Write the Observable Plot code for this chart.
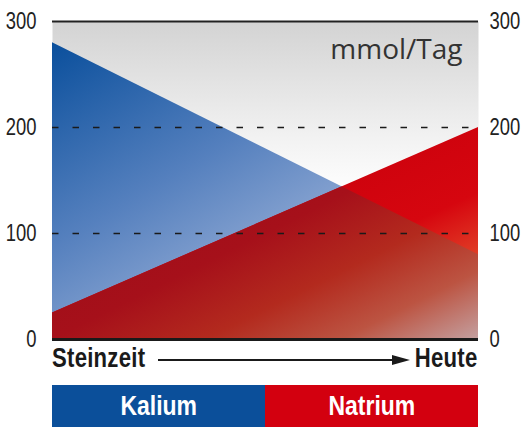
<!DOCTYPE html>
<html>
<head>
<meta charset="utf-8">
<script src="https://cdn.jsdelivr.net/npm/d3@7"></script>
<script src="https://cdn.jsdelivr.net/npm/@observablehq/plot@0.6"></script>
<style>
  html, body { margin: 0; padding: 0; background: #fff; }
  #wrap { position: relative; width: 527px; height: 427px; overflow: hidden; }
  #chart { position: absolute; left: 0; top: 0; }
  .row { position: absolute; left: 52px; width: 426px; top: 345px; height: 27px; line-height: 27px;
         font-family: "Liberation Sans", Arial, sans-serif; font-weight: bold;
         font-size: 27px; letter-spacing: 0.3px; color: #1a1a1a; }
  .row .l { position: absolute; left: 0; transform: scaleX(0.82); transform-origin: left center; }
  .row .r { position: absolute; right: 0; transform: scaleX(0.82); transform-origin: right center; }
  #arrow { position: absolute; left: 0; top: 0; }
  .legend { position: absolute; left: 52px; top: 385px; width: 426px; height: 42px; display: flex; }
  .legend div { flex: 1; text-align: center; line-height: 42px; }
  .legend span { display: inline-block; color: #fff; transform: scaleX(0.82); transform-origin: center center;
         font-family: "Liberation Sans", Arial, sans-serif; font-weight: bold; font-size: 28px; }
</style>
</head>
<body>
<div id="wrap">
  <div id="chart"></div>
  <svg id="arrow" width="527" height="427" style="pointer-events:none"></svg>
  <div class="row"><span class="l" id="xStart"></span><span class="r" id="xEnd"></span></div>
  <div class="legend" id="legend"></div>
</div>
<script>
// ---- data ----
const periods = [0, 1];                 // 0 = Steinzeit, 1 = Heute
const periodLabels = ["Steinzeit", "Heute"];
const kalium = [280, 80];               // mmol/Tag
const natrium = [25, 200];              // mmol/Tag
const seriesNames = ["Kalium", "Natrium"];
const seriesColors = ["#0b4f9a", "#d3000f"];
const yTicks = [0, 100, 200, 300];
const gridTicks = [100, 200];
const unitLabel = "mmol/Tag";

const kData = periods.map((p, i) => ({x: p, v: kalium[i]}));
const nData = periods.map((p, i) => ({x: p, v: natrium[i]}));

const plot = Plot.plot({
  width: 527,
  height: 345,
  marginLeft: 52,
  marginRight: 49,
  marginTop: 21,
  marginBottom: 6,
  style: {fontFamily: "'Liberation Sans', Arial, sans-serif", fontSize: "23px", color: "#222", background: "transparent", overflow: "visible"},
  x: {domain: [0, 1], axis: null},
  y: {domain: [0, 300], axis: null},
  marks: [
    Plot.frame({fill: "url(#bgGrad)", stroke: "none"}),
    Plot.areaY(kData, {x: "x", y: "v", fill: "url(#kGrad)"}),
    Plot.areaY(nData, {x: "x", y: "v", fill: "url(#nGrad)"}),
    Plot.areaY(nData, {x: "x", y: "v", fill: "url(#oGrad)"}),
    Plot.ruleY(gridTicks, {stroke: "#1a1a1a", strokeWidth: 1.6, strokeDasharray: "6.5,14"}),
    Plot.ruleY([300], {stroke: "#222", strokeWidth: 2.2}),
    Plot.ruleY([0], {stroke: "#1a1a1a", strokeWidth: 3}),
    Plot.axisY({anchor: "left", ticks: yTicks, tickSize: 0, tickPadding: 16, label: null, fontSize: 23, tickFormat: d => d}),
    Plot.axisY({anchor: "right", ticks: yTicks, tickSize: 0, tickPadding: 11, label: null, fontSize: 23, tickFormat: d => d}),
    Plot.text([unitLabel], {frameAnchor: "top-right", dx: -16, dy: 37, lineAnchor: "bottom", textAnchor: "end",
      fontFamily: "'Open Sans', sans-serif", fontSize: 28, fill: "#333"})
  ]
});
document.getElementById("chart").appendChild(plot);

// gradients and clip
const svg = d3.select(plot);
const defs = svg.insert("defs", ":first-child");
function grad(id, x1, y1, x2, y2, stops) {
  const g = defs.append("linearGradient").attr("id", id)
    .attr("x1", x1).attr("y1", y1).attr("x2", x2).attr("y2", y2);
  stops.forEach(([o, c]) => g.append("stop").attr("offset", o).attr("stop-color", c));
}
grad("bgGrad", 0, 0, 0, 1, [[0, "#d3d3d3"], [0.38, "#f3f3f3"], [0.55, "#ffffff"], [1, "#ffffff"]]);
grad("kGrad", 0, 0, 0.75, 0.9, [[0, "#0a4f9c"], [0.45, "#5580be"], [1, "#b9c6e3"]]);
grad("nGrad", 0.45, 0.15, 1, 0.75, [[0, "#c8000c"], [0.6, "#d6060f"], [1, "#e65a32"]]);
grad("oGrad", 0, 0, 1, 1, [[0, "#930b17"], [0.5, "#a6101a"], [0.68, "#b32a1e"], [0.84, "#bc5442"], [1, "#c4a0a0"]]);

const areas = svg.selectAll("g[aria-label='area']").nodes();
if (areas.length >= 3) {
  const kPath = d3.select(areas[0]).select("path").attr("d");
  defs.append("clipPath").attr("id", "kClip").append("path").attr("d", kPath);
  d3.select(areas[2]).attr("clip-path", "url(#kClip)");
}

// condense tick labels (narrow-font look)
svg.selectAll("g[aria-label='y-axis tick label'] text").each(function() {
  const w = this.getComputedTextLength();
  this.setAttribute("textLength", (w * 0.8).toFixed(2));
  this.setAttribute("lengthAdjust", "spacingAndGlyphs");
});

// bottom row
document.getElementById("xStart").textContent = periodLabels[0];
document.getElementById("xEnd").textContent = periodLabels[1];
const a = d3.select("#arrow");
a.append("line").attr("x1", 158).attr("x2", 396).attr("y1", 360).attr("y2", 360)
  .attr("stroke", "#1a1a1a").attr("stroke-width", 2.2);
a.append("path").attr("d", "M392,355 L410,360 L392,365 Z").attr("fill", "#1a1a1a");

// legend
const leg = d3.select("#legend");
seriesNames.forEach((n, i) => leg.append("div").style("background", seriesColors[i]).append("span").text(n));
</script>
</body>
</html>
